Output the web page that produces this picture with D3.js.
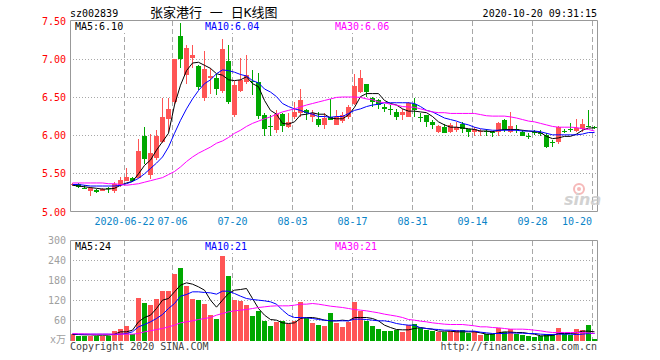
<!DOCTYPE html>
<html>
<head>
<meta charset="utf-8">
<script src="https://cdn.jsdelivr.net/npm/d3@7"></script>
<style>
body { margin: 0; background: #fff; }
svg { display: block; font-family: "DejaVu Sans Mono", monospace; font-size: 10px; }
</style>
</head>
<body>
<svg id="chart" width="660" height="360"></svg>
<script>
const dates = ["06-09","06-10","06-11","06-12","06-15","06-16","06-17","06-18","06-19","06-22",
    "06-23","06-24","06-29","06-30","07-01","07-02","07-03","07-06","07-07","07-08",
    "07-09","07-10","07-13","07-14","07-15","07-16","07-17","07-20","07-21","07-22",
    "07-23","07-24","07-27","07-28","07-29","07-30","07-31","08-03","08-04","08-05",
    "08-06","08-07","08-10","08-11","08-12","08-13","08-14","08-17","08-18","08-19",
    "08-20","08-21","08-24","08-25","08-26","08-27","08-28","08-31","09-01","09-02",
    "09-03","09-04","09-07","09-08","09-09","09-10","09-11","09-14","09-15","09-16",
    "09-17","09-18","09-21","09-22","09-23","09-24","09-25","09-28","09-29","09-30",
    "10-09","10-12","10-13","10-14","10-15","10-16","10-19","10-20"];

const open = [5.35,5.36,5.32,5.27,5.29,5.28,5.31,5.27,5.35,5.41,
    5.45,5.45,6.00,5.48,5.71,5.92,6.22,6.44,7.31,6.79,
    7.02,6.91,6.49,6.76,6.76,6.59,6.97,6.27,6.59,6.70,
    6.72,6.70,6.27,6.13,6.07,6.28,6.11,6.25,6.30,6.33,
    6.25,6.22,6.14,6.25,6.14,6.19,6.25,6.42,6.57,6.68,
    6.49,6.47,6.38,6.35,6.31,6.27,6.25,6.42,6.25,6.27,
    6.18,6.05,6.11,6.05,6.07,6.15,6.08,6.05,6.05,6.06,
    6.05,6.05,6.20,6.05,6.09,6.05,6.00,6.05,6.04,6.01,
    5.91,5.92,6.06,6.09,6.06,6.08,6.12,6.11];
const close = [5.37,5.33,5.31,5.32,5.26,5.30,5.30,5.37,5.42,5.46,
    5.40,5.80,5.69,5.77,6.00,6.25,6.35,7.00,7.00,7.15,
    7.06,6.64,6.87,6.78,6.61,7.14,6.44,6.66,6.73,6.79,
    6.70,6.26,6.08,6.12,6.28,6.13,6.18,6.31,6.46,6.29,
    6.30,6.14,6.23,6.20,6.25,6.27,6.38,6.65,6.75,6.57,
    6.44,6.40,6.35,6.33,6.25,6.31,6.43,6.34,6.24,6.18,
    6.14,6.12,6.04,6.14,6.11,6.09,6.05,6.08,6.06,6.05,
    6.03,6.17,6.07,6.12,6.08,6.00,5.99,6.04,6.02,5.85,
    5.90,6.11,6.05,6.07,6.10,6.15,6.11,6.10];
const high = [5.38,5.38,5.35,5.33,5.30,5.31,5.33,5.39,5.46,5.57,
    5.46,5.95,6.11,6.02,6.07,6.49,6.49,7.00,7.47,7.19,
    7.19,6.92,7.11,6.88,6.80,7.26,7.19,6.72,7.01,7.06,
    6.86,6.82,6.29,6.27,6.33,6.29,6.29,6.44,6.61,6.35,
    6.34,6.31,6.29,6.48,6.34,6.31,6.40,6.80,6.86,6.68,
    6.51,6.48,6.42,6.40,6.35,6.35,6.44,6.49,6.29,6.27,
    6.20,6.14,6.15,6.16,6.18,6.18,6.09,6.11,6.09,6.09,
    6.06,6.18,6.22,6.31,6.14,6.07,6.04,6.07,6.07,6.03,
    5.94,6.12,6.09,6.16,6.22,6.22,6.34,6.12];
const low = [5.34,5.31,5.30,5.21,5.25,5.27,5.25,5.25,5.33,5.40,
    5.39,5.44,5.63,5.43,5.68,5.90,6.05,6.42,6.89,6.67,
    6.88,6.60,6.45,6.55,6.53,6.56,6.42,6.25,6.57,6.68,
    6.53,6.22,6.00,6.00,6.03,6.05,6.10,6.22,6.25,6.20,
    6.18,6.11,6.09,6.20,6.14,6.17,6.22,6.40,6.56,6.51,
    6.38,6.35,6.31,6.27,6.20,6.20,6.25,6.25,6.18,6.11,
    6.09,6.04,6.03,6.03,6.05,6.03,5.98,5.99,5.99,5.99,
    5.98,5.99,6.05,6.04,6.03,5.99,5.95,6.01,6.00,5.84,
    5.85,5.89,6.03,6.05,6.05,6.05,6.11,6.09];
const volume = [19,15,15,15,15,15,15,29,35,43,
    19,127,112,106,124,148,148,200,217,163,
    124,121,109,76,64,253,193,121,118,106,
    73,88,59,43,55,59,49,59,115,67,
    52,46,43,82,52,40,55,115,88,58,
    43,34,28,28,31,25,46,49,39,31,
    28,25,25,28,31,31,23,28,16,19,
    19,39,25,35,19,16,13,11,13,21,
    19,38,19,16,35,31,46,4];

const ma5 = [5.35,5.34,5.33,5.32,5.31,5.30,5.30,5.31,5.35,5.38,
    5.40,5.50,5.61,5.68,5.81,5.92,6.03,6.40,6.66,6.85,
    6.95,6.96,6.92,6.88,6.81,6.79,6.73,6.72,6.73,6.77,
    6.68,6.64,6.46,6.33,6.28,6.16,6.15,6.18,6.27,6.28,
    6.30,6.28,6.28,6.23,6.22,6.22,6.27,6.37,6.51,6.55,
    6.55,6.55,6.46,6.42,6.40,6.35,6.32,6.32,6.31,6.30,
    6.25,6.18,6.14,6.11,6.11,6.10,6.09,6.08,6.06,6.06,
    6.05,6.07,6.08,6.08,6.08,6.07,6.06,6.05,6.04,5.99,
    5.96,5.97,5.99,5.99,6.02,6.07,6.10,6.10];
const ma10 = [5.36,5.36,5.35,5.34,5.34,5.34,5.34,5.34,5.35,5.37,
    5.40,5.44,5.50,5.57,5.64,5.72,5.85,6.03,6.20,6.35,
    6.48,6.59,6.68,6.73,6.81,6.86,6.85,6.83,6.80,6.78,
    6.72,6.69,6.61,6.57,6.51,6.42,6.38,6.35,6.33,6.30,
    6.28,6.25,6.25,6.24,6.25,6.25,6.29,6.33,6.35,6.38,
    6.40,6.41,6.43,6.43,6.43,6.43,6.43,6.42,6.38,6.33,
    6.31,6.27,6.23,6.21,6.19,6.16,6.14,6.11,6.09,6.08,
    6.07,6.07,6.07,6.07,6.07,6.06,6.06,6.06,6.05,6.03,
    6.01,6.01,6.01,6.01,6.01,6.02,6.04,6.04];
const ma30 = [5.38,5.38,5.38,5.38,5.38,5.38,5.37,5.37,5.36,5.35,
    5.36,5.37,5.39,5.41,5.43,5.45,5.49,5.53,5.59,5.66,
    5.72,5.77,5.81,5.85,5.90,5.93,5.975,6.03,6.07,6.12,
    6.16,6.19,6.22,6.245,6.28,6.31,6.33,6.35,6.375,6.40,
    6.42,6.44,6.46,6.48,6.50,6.505,6.505,6.505,6.50,6.48,
    6.47,6.44,6.43,6.41,6.40,6.38,6.375,6.37,6.35,6.33,
    6.31,6.30,6.30,6.29,6.29,6.29,6.29,6.29,6.275,6.26,
    6.255,6.255,6.255,6.245,6.23,6.21,6.19,6.18,6.16,6.14,
    6.12,6.11,6.11,6.11,6.105,6.09,6.08,6.06];

const volMa5 = [18,18,17,17,16,16,16,19,26,26,
    31,56,69,76,96,121,126,146,166,173,
    169,161,151,121,100,121,141,151,153,156,
    126,96,76,63,61,53,51,53,66,69,
    69,66,61,59,59,61,59,69,69,69,
    66,59,46,39,33,32,32,36,39,36,
    34,28,28,28,26,26,26,26,23,19,
    19,23,26,25,24,24,21,19,14,14,
    15,21,21,21,23,28,28,26];
const volMa10 = [20,19,19,19,19,19,19,18,19,21,
    26,41,48,56,66,78,96,111,133,138,
    146,146,144,143,139,148,148,141,133,126,
    123,121,119,116,109,91,76,69,69,68,
    66,63,61,59,59,59,59,64,64,63,
    61,59,59,56,51,48,46,46,38,36,
    34,33,31,31,29,29,28,28,25,23,
    21,21,21,23,22,22,21,21,19,18,
    18,19,19,19,18,19,21,21];
const volMa30 = [21,20,20,19,19,19,19,19,19,19,
    19,21,26,29,33,36,41,46,53,56,
    59,63,66,69,76,81,86,89,91,93,
    96,99,101,103,104,104,104,106,109,109,
    111,109,106,103,101,99,96,93,91,89,
    86,83,79,76,73,69,63,61,58,56,
    53,51,49,48,48,48,46,44,41,41,
    39,38,36,34,34,34,33,31,29,26,
    24,24,24,24,24,24,23,21];

const tickDates = ["06-22","07-06","07-20","08-03","08-17","08-31","09-14","09-28","10-20"];
const tickLabels = ["2020-06-22","07-06","07-20","08-03","08-17","08-31","09-14","09-28","10-20"];
const priceTicks = [5.0, 5.5, 6.0, 6.5, 7.0, 7.5];
const volumeTicks = [60, 120, 180, 240, 300];
const priceMaLabels = ["MA5:6.10", "MA10:6.04", "MA30:6.06"];
const volumeMaLabels = ["MA5:24", "MA10:21", "MA30:21"];

const svg = d3.select("#chart");
const left = 70, right = 597;
const red = "#ff5555", green = "#00a800";
const maColors = ["#000000", "#0000ff", "#ff00ff"];
const grid = "#a8a8a8";

const x = d3.scaleBand().domain(dates).range([69, 597]);
const y = d3.scaleLinear().domain([5, 7.5]).range([212, 21]);
const yv = d3.scaleLinear().domain([0, 300]).range([340.5, 240.5]);
const px = v => Math.floor(v) + 0.5;
const isUp = i => close[i] >= open[i];

// header
svg.append("text").attr("x", 70).attr("y", 17).text("sz002839");
svg.append("text").attr("x", 150).attr("y", 16.5)
    .style("font-family", "'DejaVu Sans Mono', 'Noto Sans CJK SC'").style("font-size", "13px")
    .text("张家港行 一 日K线图");
svg.append("text").attr("x", 597).attr("y", 17).attr("text-anchor", "end")
    .text("2020-10-20 09:31:15");

const defs = svg.append("defs");
defs.append("clipPath").attr("id", "clipMain").append("rect")
    .attr("x", 71).attr("y", 21).attr("width", 526).attr("height", 190);
defs.append("clipPath").attr("id", "clipVol").append("rect")
    .attr("x", 71).attr("y", 241).attr("width", 526).attr("height", 100);

function frame(top, bottom, scale, ticks) {
    const g = svg.append("g");
    g.selectAll(".hgrid").data(ticks).enter().append("line")
        .attr("x1", left).attr("x2", right)
        .attr("y1", d => px(scale(d))).attr("y2", d => px(scale(d)))
        .attr("stroke", grid).attr("stroke-dasharray", "1,2");
    g.selectAll(".vgrid").data(tickDates).enter().append("line")
        .attr("x1", d => x(d) + 1.5).attr("x2", d => x(d) + 1.5)
        .attr("y1", top).attr("y2", bottom)
        .attr("stroke", grid).attr("stroke-dasharray", "5,3");
    return g;
}

function maLabels(labels, baseline) {
    labels.forEach((t, k) => {
        const g = svg.append("g");
        const bg = g.append("rect").attr("fill", "#fff");
        const txt = g.append("text").attr("x", 75 + k * 130).attr("y", baseline)
            .attr("fill", maColors[k]).text(t);
        const w = txt.node().getComputedTextLength();
        bg.attr("x", 73 + k * 130).attr("y", baseline - 9).attr("width", w + 4).attr("height", 12);
    });
}

// price panel
frame(21, 211, y, [5.5, 6.0, 6.5, 7.0]);
svg.append("path")
    .attr("d", `M${left + 0.5},20.5H${right + 0.5}V211.5H${left + 0.5}Z`)
    .attr("fill", "none").attr("stroke", "#999");

svg.append("g").selectAll("text").data(priceTicks).enter().append("text")
    .attr("x", 66).attr("y", d => y(d)).attr("dy", "0.35em")
    .attr("text-anchor", "end").attr("fill", "#ff0000")
    .text(d3.format(".2f"));

svg.append("g").selectAll("text").data(tickDates).enter().append("text")
    .attr("x", (d, i) => i === tickDates.length - 1 ? x(d) + 1 : x(d) + 1.5)
    .attr("y", 225)
    .attr("text-anchor", (d, i) => i === tickDates.length - 1 ? "end" : "middle")
    .attr("fill", "#0a84c8")
    .text((d, i) => tickLabels[i]);

// sina mark
const logo = svg.append("g").attr("opacity", 0.8);
logo.append("circle").attr("cx", 579).attr("cy", 189).attr("r", 5)
    .attr("fill", "none").attr("stroke", "#f4a8a8").attr("stroke-width", 2);
logo.append("circle").attr("cx", 579).attr("cy", 189).attr("r", 2).attr("fill", "#f4a8a8");
logo.append("text").attr("x", 564).attr("y", 205)
    .style("font-family", "'DejaVu Sans'").style("font-size", "16px")
    .style("font-weight", "bold").style("font-style", "italic")
    .attr("fill", "#c8c8c8").text("sina");

const candles = svg.append("g").attr("clip-path", "url(#clipMain)")
    .attr("shape-rendering", "crispEdges");

candles.selectAll(".wick").data(dates).enter().append("line")
    .attr("x1", d => x(d) + 3.5).attr("x2", d => x(d) + 3.5)
    .attr("y1", (d, i) => y(high[i])).attr("y2", (d, i) => y(low[i]))
    .attr("stroke", (d, i) => isUp(i) ? red : green);

candles.selectAll(".body").data(dates).enter().append("rect")
    .attr("x", d => x(d) + 1).attr("width", 5)
    .attr("y", (d, i) => y(Math.max(open[i], close[i])))
    .attr("height", (d, i) => Math.max(1, Math.abs(y(open[i]) - y(close[i]))))
    .attr("fill", (d, i) => isUp(i) ? red : green);

const priceLine = d3.line().x((d, i) => x(dates[i]) + 3.5).y(d => y(d));
const maLayer = svg.append("g").attr("clip-path", "url(#clipMain)");
[ma5, ma10, ma30].forEach((s, k) => {
    maLayer.append("path").attr("d", priceLine(s))
        .attr("fill", "none").attr("stroke", maColors[k]).attr("stroke-width", 1);
});

maLabels(priceMaLabels, 30);

// volume panel
frame(241, 340, yv, [60, 120, 180, 240]);
svg.append("path")
    .attr("d", `M${left + 0.5},341V240.5H${right + 0.5}V341`)
    .attr("fill", "none").attr("stroke", "#999");

svg.append("g").selectAll("text").data(volumeTicks).enter().append("text")
    .attr("x", 66).attr("y", d => yv(d)).attr("dy", "0.35em")
    .attr("text-anchor", "end").attr("fill", "#a0a0a0")
    .text(d => d);
svg.append("text").attr("x", 50).attr("y", 343).attr("fill", "#a0a0a0")
    .style("font-family", "'DejaVu Sans Mono', 'Noto Sans CJK SC'").text("x万");

svg.append("g").attr("clip-path", "url(#clipVol)").attr("shape-rendering", "crispEdges")
    .selectAll("rect").data(dates).enter().append("rect")
    .attr("x", d => x(d) + 1).attr("width", 5)
    .attr("y", (d, i) => yv(volume[i]))
    .attr("height", (d, i) => yv(0) - yv(volume[i]))
    .attr("fill", (d, i) => isUp(i) ? red : green);

const volLine = d3.line().x((d, i) => x(dates[i]) + 3.5).y(d => yv(d));
const volMaLayer = svg.append("g").attr("clip-path", "url(#clipVol)");
[volMa5, volMa10, volMa30].forEach((s, k) => {
    volMaLayer.append("path").attr("d", volLine(s))
        .attr("fill", "none").attr("stroke", maColors[k]).attr("stroke-width", 1);
});

maLabels(volumeMaLabels, 250);

svg.append("text").attr("x", 70).attr("y", 350).attr("fill", "#444").text("Copyright 2020 SINA.COM");
svg.append("text").attr("x", 597).attr("y", 350).attr("text-anchor", "end")
    .attr("fill", "#444").text("http://finance.sina.com.cn");
</script>
</body>
</html>
